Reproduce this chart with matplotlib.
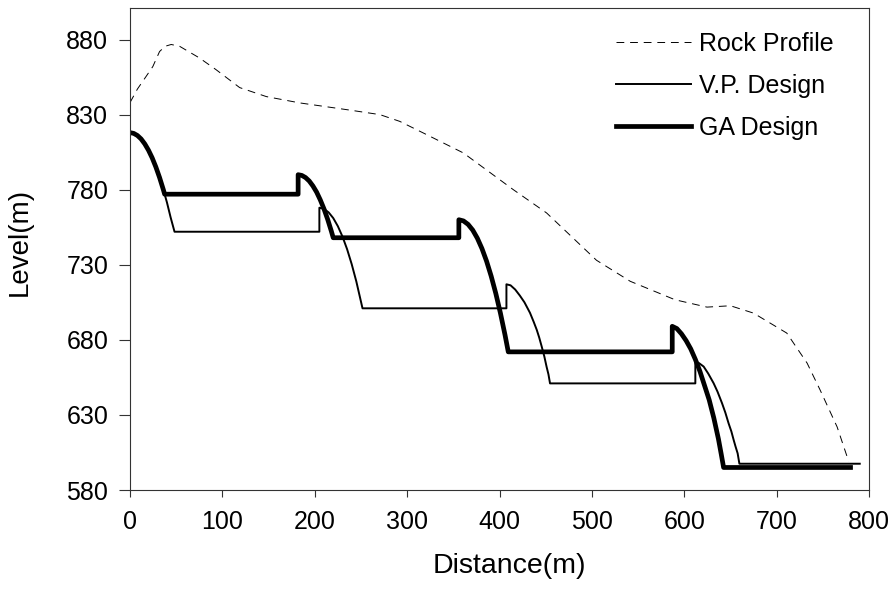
import matplotlib
matplotlib.use("Agg")
import matplotlib.pyplot as plt

plt.rcParams['font.family'] = ['Liberation Sans', 'DejaVu Sans']

# Rock profile (dashed)
rock_x = [0, 8, 17.5, 24.7, 32, 38, 44.6, 53.7, 75, 93, 118.7, 147.6, 183.7, 238, 270.5,
          292, 317.4, 360.8, 415, 451, 505, 541.5, 590, 624.6, 650, 675, 711, 733, 747,
          765.5, 776.4, 778]
rock_y = [838, 847, 855.5, 862, 872, 875.5, 876.7, 875.5, 867.8, 860, 848, 842, 837.8, 833, 830,
          825.5, 817.8, 804.5, 780, 764.5, 733, 719, 706.7, 701.8, 702.7, 697.8, 684.5, 664.5, 646.7,
          622, 602, 599]

# V.P. design (thin)
vp_x = [0, 4, 8, 12, 16, 20, 24, 28, 32, 36, 40, 44, 48.2,
        205, 205, 210, 215, 220, 225, 230, 235, 240, 245, 251.7,
        407.5, 407.5, 412, 417, 422, 427, 433, 437, 440.3, 443, 445.7, 448.5, 451, 453, 454.7,
        612, 612, 616, 621, 626, 631.8, 636, 640.9, 644.5, 648, 651, 653.5, 655.5, 657.8, 659.7,
        790]
vp_y = [818, 817.5, 816.1, 813.8, 810.5, 806.3, 801.2, 795.1, 788.1, 780.2, 771.5, 761.5, 752,
        752, 768, 767.2, 764.9, 761.1, 755.7, 748.8, 740.4, 730.4, 718.9, 701,
        701, 717, 716.3, 713.5, 709.5, 705, 698, 692, 686.7, 681.5, 675.5, 669, 662, 657, 651,
        651, 665.5, 664.5, 662.2, 657.5, 651.1, 645.5, 637.8, 631.5, 624.4, 619, 613.3, 609, 604.4, 597.5,
        597.5]

# GA design (thick)
ga_x = [0, 4, 8, 12, 16, 20, 24, 28, 32, 36, 37.5,
        182, 182, 186, 190, 194, 198, 202, 206, 210, 214, 218, 220,
        356, 356, 361, 366, 371, 376, 381, 386, 391, 396, 401, 406, 409.5,
        587, 587, 592, 597, 602, 607, 612, 617, 622, 627, 632, 637, 640, 642.6,
        780]
ga_y = [818, 817.5, 816.1, 813.8, 810.5, 806.3, 801.2, 795.1, 788.1, 780.2, 777,
        777, 790, 789.5, 788.1, 785.8, 782.5, 778.4, 773.2, 767.2, 760.2, 752.3, 748,
        748, 760, 759.2, 756.9, 753.1, 747.7, 740.8, 732.4, 722.4, 710.9, 697.8, 683.2, 672,
        672, 689, 687.5, 684, 679.5, 674, 667, 659, 649.5, 640, 628, 614, 604, 595,
        595]

x_ticks = [0, 100, 200, 300, 400, 500, 600, 700, 800]
y_ticks = [580, 630, 680, 730, 780, 830, 880]

fig = plt.figure(figsize=(8.93, 5.89), dpi=100)
ax = fig.add_axes([130 / 893, 99 / 589, 739 / 893, 482 / 589])

ax.plot(rock_x, rock_y, color='black', lw=0.7, linestyle=(0, (8, 6)), label='Rock Profile')
ax.plot(vp_x, vp_y, color='black', lw=1.4, label='V.P. Design')
ax.plot(ga_x, ga_y, color='black', lw=3.4, label='GA Design', solid_joinstyle='round')

ax.set_xlim(0, 800)
ax.set_ylim(580, 901)
ax.set_xticks(x_ticks)
ax.set_yticks(y_ticks)
ax.tick_params(axis='both', direction='out', width=0.8, labelsize=18, color='#333333')
ax.tick_params(axis='x', length=5.3, pad=9.0)
ax.tick_params(axis='y', length=7.7, pad=8)
for s in ax.spines.values():
    s.set_linewidth(0.8)
    s.set_color('#333333')

ax.set_xlabel('Distance(m)', fontsize=20.5)
ax.set_ylabel('Level(m)', fontsize=20)
ax.xaxis.set_label_coords(0.514, -0.13)
ax.yaxis.set_label_coords(-0.131, 0.5145)

leg = ax.legend(loc='upper right', bbox_to_anchor=(0.952, 0.95), frameon=False, fontsize=18,
                handlelength=3.0, handletextpad=0.32, labelspacing=0.72, borderpad=0, borderaxespad=0)

fig.savefig('out.png', dpi=100)
